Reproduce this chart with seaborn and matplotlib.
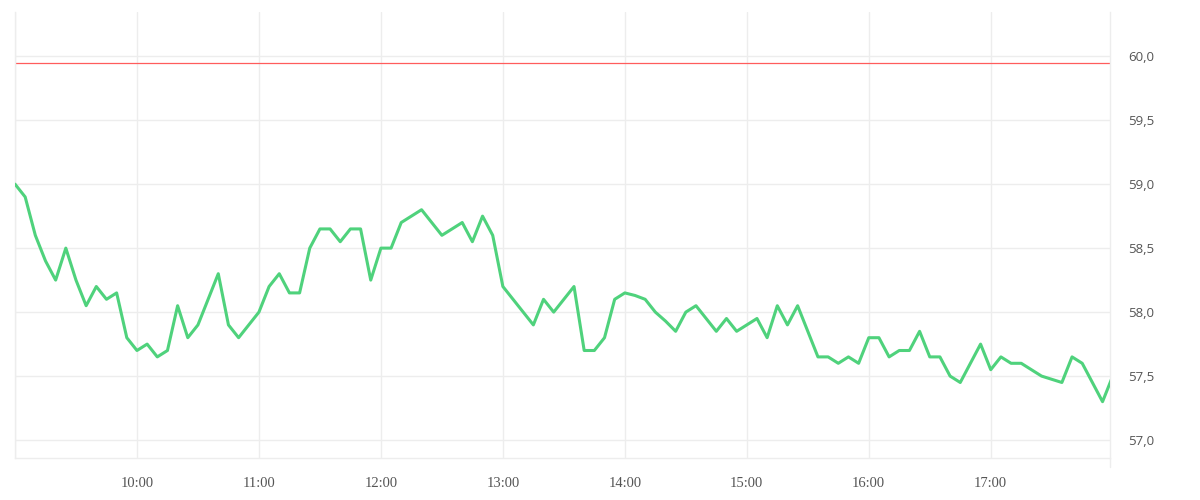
import numpy as np
import pandas as pd
import matplotlib
matplotlib.use("Agg")
import matplotlib.pyplot as plt
import matplotlib.dates as mdates
from matplotlib.ticker import FuncFormatter, FixedLocator
import seaborn as sns

# ---- data ----
start_time = "2024-01-02 09:00"
step = "5min"
prices = [
    59.0, 58.9, 58.6, 58.4, 58.25, 58.5, 58.25, 58.05, 58.2, 58.1,
    58.15, 57.8, 57.7, 57.75, 57.65, 57.7, 58.05, 57.8, 57.9, 58.1,
    58.3, 57.9, 57.8, 57.9, 58.0, 58.2, 58.3, 58.15, 58.15, 58.5,
    58.65, 58.65, 58.55, 58.65, 58.65, 58.25, 58.5, 58.5, 58.7, 58.75,
    58.8, 58.7, 58.6, 58.65, 58.7, 58.55, 58.75, 58.6, 58.2, 58.1,
    58.0, 57.9, 58.1, 58.0, 58.1, 58.2, 57.7, 57.7, 57.8, 58.1,
    58.15, 58.13, 58.1, 58.0, 57.93, 57.85, 58.0, 58.05, 57.95, 57.85,
    57.95, 57.85, 57.9, 57.95, 57.8, 58.05, 57.9, 58.05, 57.85, 57.65,
    57.65, 57.6, 57.65, 57.6, 57.8, 57.8, 57.65, 57.7, 57.7, 57.85,
    57.65, 57.65, 57.5, 57.45, 57.6, 57.75, 57.55, 57.65, 57.6, 57.6,
    57.55, 57.5, 57.475, 57.45, 57.65, 57.6, 57.45, 57.3, 57.5,
]
reference_level = 59.95
y_ticks = [57.0, 57.5, 58.0, 58.5, 59.0, 59.5, 60.0]
hour_ticks = ["09:00", "10:00", "11:00", "12:00", "13:00", "14:00",
              "15:00", "16:00", "17:00"]
y_limits = (56.86, 60.345)
x_end = "2024-01-02 17:58:40"

times = pd.date_range(start_time, periods=len(prices), freq=step)
df = pd.DataFrame({"time": times, "price": prices})

# ---- style ----
sns.set_theme(style="white")
grid_c = "#ededed"
text_c = "#555555"

fig = plt.figure(figsize=(12, 5), dpi=100)
ax = fig.add_axes([15 / 1200, 1 - 458 / 500, (1110 - 15) / 1200, (458 - 12) / 500])

sns.lineplot(data=df, x="time", y="price", ax=ax, color="#4fd27c",
             linewidth=2.2, zorder=3)
ax.axhline(reference_level, color="#ff5c5c", linewidth=0.9, zorder=2)

day = times[0].strftime("%Y-%m-%d")
xt = [pd.Timestamp(f"{day} {h}") for h in hour_ticks]
ax.set_xlim(times[0], pd.Timestamp(x_end))
ax.set_ylim(*y_limits)
ax.xaxis.set_major_locator(FixedLocator(mdates.date2num(xt)))
ax.set_xticklabels([""] + hour_ticks[1:])
ax.set_yticks(y_ticks)
ax.yaxis.set_major_formatter(FuncFormatter(lambda v, p: f"{v:.1f}".replace(".", ",")))
ax.yaxis.tick_right()

ax.grid(True, color=grid_c, linewidth=1)
ax.set_axisbelow(True)
ax.set_xlabel("")
ax.set_ylabel("")

ax.spines["top"].set_visible(False)
for s in ["left", "right", "bottom"]:
    ax.spines[s].set_color(grid_c)
    ax.spines[s].set_linewidth(1)

ax.tick_params(axis="x", length=6.5, width=1, color=grid_c, pad=7,
               labelcolor=text_c)
ax.tick_params(axis="y", length=0, pad=13, labelcolor=text_c)
for lab in ax.get_xticklabels():
    lab.set_fontfamily(["Liberation Serif", "DejaVu Serif"])
    lab.set_fontsize(10.5)
for lab in ax.get_yticklabels():
    lab.set_fontfamily(["Open Sans", "DejaVu Sans"])
    lab.set_fontsize(9.5)

# extend right edge line below the axis like the tick marks
ax.plot([1, 1], [0, -9 / 446], transform=ax.transAxes, color=grid_c,
        linewidth=1, clip_on=False)

fig.savefig("out.png", dpi=100, facecolor="white")
